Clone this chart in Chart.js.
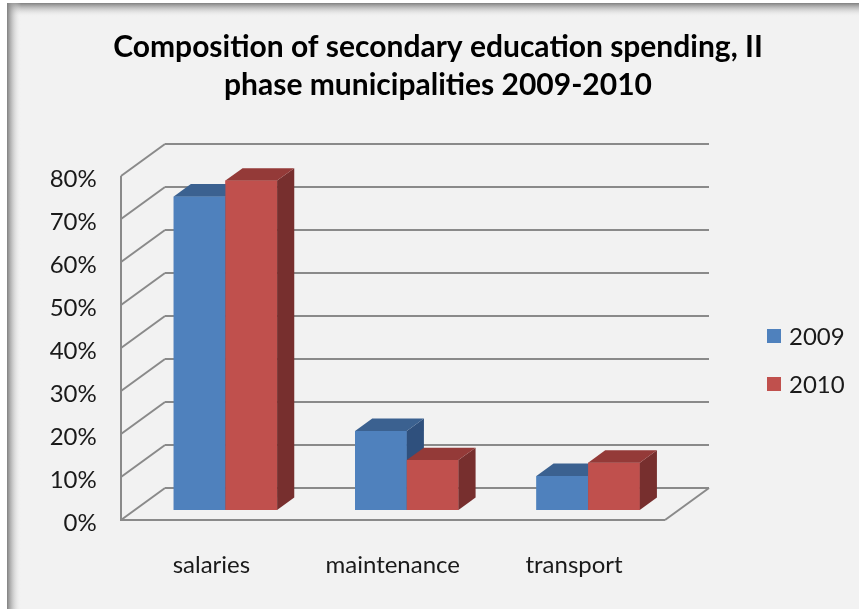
<!DOCTYPE html>
<html><head><meta charset="utf-8">
<script src="https://cdn.jsdelivr.net/npm/chart.js@4.4.1/dist/chart.umd.min.js"></script>
<style>html,body{margin:0;padding:0;background:#fff;overflow:hidden}</style>
</head><body>
<canvas id="c" width="859" height="609"></canvas>
<script>
// ---- data ----
const titleLines = ['Composition of secondary education spending, II', 'phase municipalities 2009-2010'];
const categories = ['salaries', 'maintenance', 'transport'];
const seriesNames = ['2009', '2010'];
const values2009 = [72.9, 18.4, 7.9];
const values2010 = [76.6, 11.6, 11.0];
const yMin = 0, yMax = 80, yStep = 10;

// ---- style ----
const frontColors = ['#4F81BD', '#C0504D'];
const topColors = ['#3b6190', '#943a38'];
const sideColors = ['#2f507d', '#772f2e'];
const DEPTH_X = 44, DEPTH_Y = -32, BAR_T0 = 0.3125, BAR_T = 0.39;
const frontOff = {x: -BAR_T0 * DEPTH_X, y: -BAR_T0 * DEPTH_Y};
const backOff = {x: (1 - BAR_T0) * DEPTH_X, y: (1 - BAR_T0) * DEPTH_Y};
const FONT = 'Lato';
const TEXT = '#1a1a1a';

function line(ctx, x1, y1, x2, y2) { ctx.beginPath(); ctx.moveTo(x1, y1); ctx.lineTo(x2, y2); ctx.stroke(); }
function poly(ctx, pts, color) {
  ctx.beginPath(); ctx.moveTo(pts[0][0], pts[0][1]);
  for (let i = 1; i < pts.length; i++) ctx.lineTo(pts[i][0], pts[i][1]);
  ctx.closePath(); ctx.fillStyle = color; ctx.fill();
}

const bgPlugin = {
  id: 'bg',
  beforeDraw(chart) {
    const ctx = chart.ctx, W = chart.width, H = chart.height;
    ctx.save();
    ctx.fillStyle = '#ffffff'; ctx.fillRect(0, 0, W, H);
    ctx.fillStyle = '#f2f2f2'; ctx.fillRect(7, 3, W - 7, H - 3);
    let g = ctx.createLinearGradient(0, 3, 0, 17);
    g.addColorStop(0, 'rgba(128,128,128,1)'); g.addColorStop(1, 'rgba(242,242,242,0)');
    ctx.fillStyle = g; ctx.fillRect(7, 3, W - 7, 14);
    g = ctx.createLinearGradient(7, 0, 21, 0);
    g.addColorStop(0, 'rgba(128,128,128,1)'); g.addColorStop(1, 'rgba(242,242,242,0)');
    ctx.fillStyle = g; ctx.fillRect(7, 3, 14, H - 3);
    ctx.restore();
  }
};

const wallsPlugin = {
  id: 'walls',
  beforeDatasetsDraw(chart) {
    const ctx = chart.ctx, a = chart.chartArea, y = chart.scales.y;
    ctx.save();
    ctx.strokeStyle = '#8a8a8a'; ctx.lineWidth = 2; ctx.lineCap = 'butt';
    y.ticks.forEach(t => {
      const py = y.getPixelForValue(t.value);
      line(ctx, a.left + frontOff.x, py + frontOff.y, a.left + backOff.x, py + backOff.y);
      line(ctx, a.left + backOff.x, py + backOff.y, a.right + backOff.x, py + backOff.y);
    });
    const pTop = y.getPixelForValue(yMax), p0 = y.getPixelForValue(yMin);
    line(ctx, a.left + frontOff.x, pTop + frontOff.y, a.left + frontOff.x, p0 + frontOff.y);
    line(ctx, a.left + frontOff.x - 1, p0 + frontOff.y, a.right + frontOff.x, p0 + frontOff.y);
    line(ctx, a.right + frontOff.x, p0 + frontOff.y, a.right + backOff.x, p0 + backOff.y);
    ctx.restore();
  }
};

const bars3dPlugin = {
  id: 'bars3d',
  afterDatasetsDraw(chart) {
    const ctx = chart.ctx;
    const dx = BAR_T * DEPTH_X, dy = BAR_T * DEPTH_Y;
    const metas = chart.data.datasets.map((d, i) => chart.getDatasetMeta(i));
    ctx.save();
    for (let i = 0; i < categories.length; i++) {
      metas.forEach((m, di) => {
        const el = m.data[i];
        const p = el.getProps(['x', 'y', 'base', 'width'], true);
        el.draw(ctx);
        const x1 = p.x - p.width / 2, x2 = p.x + p.width / 2;
        const top = Math.min(p.y, p.base), bot = Math.max(p.y, p.base);
        poly(ctx, [[x2, top], [x2 + dx, top + dy], [x2 + dx, bot + dy], [x2, bot]], sideColors[di]);
        poly(ctx, [[x1, top], [x2, top], [x2 + dx, top + dy], [x1 + dx, top + dy]], topColors[di]);
      });
    }
    ctx.restore();
  }
};

const legendPlugin = {
  id: 'legend3d',
  afterDraw(chart) {
    const ctx = chart.ctx;
    ctx.save();
    ctx.font = '24px ' + FONT; ctx.textBaseline = 'middle'; ctx.textAlign = 'left';
    chart.data.datasets.forEach((d, i) => {
      const cy = 336 + i * 48;
      ctx.fillStyle = d.backgroundColor; ctx.fillRect(767, cy - 7, 14, 14);
      ctx.fillStyle = TEXT; ctx.fillText(d.label, 789, cy + 1);
    });
    ctx.restore();
  }
};

new Chart(document.getElementById('c'), {
  type: 'bar',
  data: {
    labels: categories,
    datasets: [
      {label: seriesNames[0], data: values2009, backgroundColor: frontColors[0], borderWidth: 0},
      {label: seriesNames[1], data: values2010, backgroundColor: frontColors[1], borderWidth: 0}
    ]
  },
  options: {
    responsive: false, animation: false, devicePixelRatio: 1,
    layout: {padding: {left: 17, top: 0, right: 0, bottom: 0}},
    datasets: {bar: {categoryPercentage: 0.57, barPercentage: 1.0}},
    plugins: {
      legend: {display: false},
      tooltip: {enabled: false},
      title: {
        display: true, text: titleLines, color: '#000',
        font: {family: FONT, size: 30, weight: 'bold', lineHeight: 38 / 30},
        padding: {top: 28, bottom: 62}
      }
    },
    scales: {
      x: {
        grid: {display: false, drawTicks: false}, border: {display: false},
        ticks: {color: TEXT, font: {family: FONT, size: 24}, padding: 41, labelOffset: -14, maxRotation: 0, autoSkip: false},
        afterFit(s) { s.height = 99; }
      },
      y: {
        min: yMin, max: yMax,
        grid: {display: false, drawTicks: false}, border: {display: false},
        ticks: {stepSize: yStep, callback: v => v + '%', color: TEXT, font: {family: FONT, size: 24}, padding: 38, labelOffset: 13},
        afterFit(s) { s.width = 117.75; }
      },
      yR: {
        position: 'right', display: true,
        grid: {display: false}, border: {display: false}, ticks: {display: false},
        afterFit(s) { s.width = 180.25; }
      }
    }
  },
  plugins: [bgPlugin, wallsPlugin, bars3dPlugin, legendPlugin]
});
</script>
</body></html>
